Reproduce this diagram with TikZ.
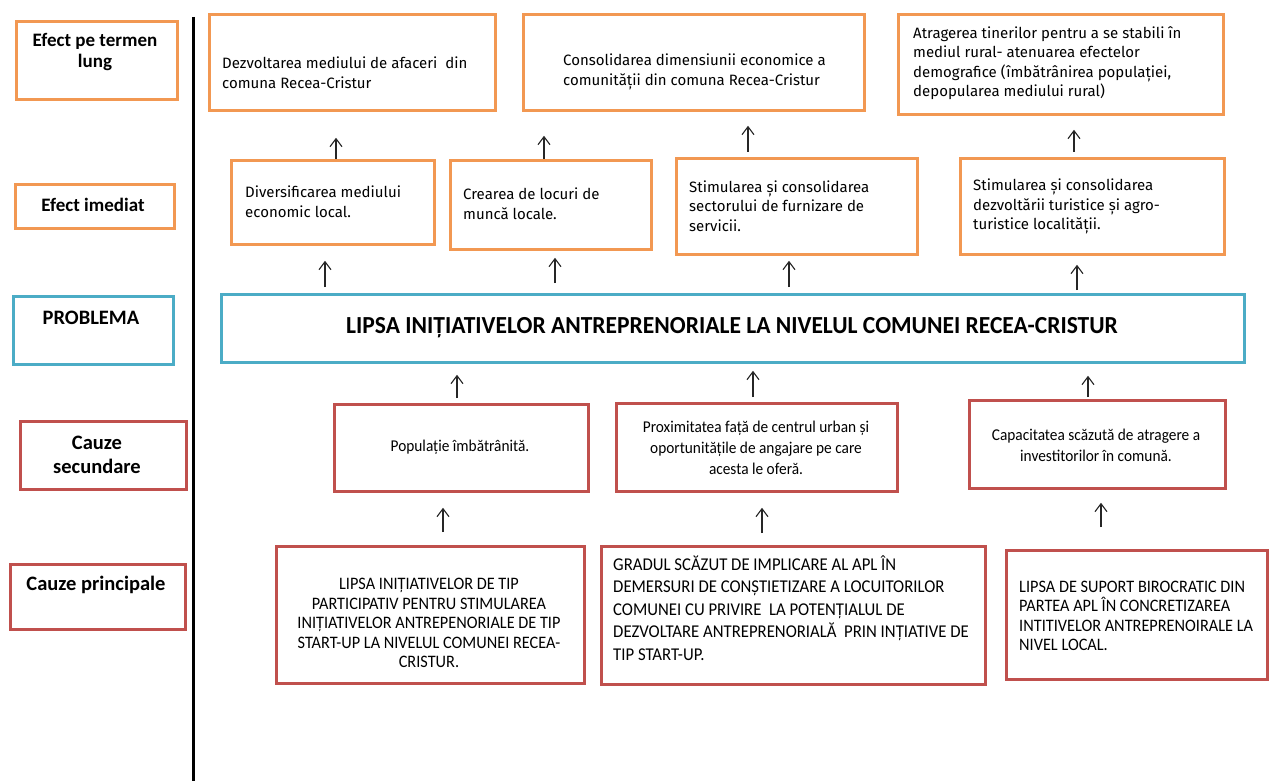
\documentclass[tikz,border=0pt]{standalone}
\usepackage{fontspec}
\setmainfont{Carlito}
\newfontfamily\rowfont{Fira Sans}
\newfontfamily\narrowfont[FakeStretch=0.93]{Carlito}
\newfontfamily\probfont[FakeStretch=0.96]{Carlito}
\usetikzlibrary{arrows.meta}
\definecolor{orng}{RGB}{242,152,82}
\definecolor{blu}{RGB}{75,172,198}
\definecolor{rd}{RGB}{192,80,77}
\begin{document}
\begin{tikzpicture}[x=1pt,y=-1pt,
  box/.style={draw, line width=2.8pt, inner sep=0pt, anchor=north west},
  ob/.style={box, draw=orng},
  bb/.style={box, draw=blu},
  rb/.style={box, draw=rd},
  arr/.style={-{Straight Barb[length=8pt,width=12pt]}, line width=1.1pt, draw=black!85},
  lab/.style={font=\bfseries\fontsize{19}{21}\selectfont, align=center, inner sep=0pt},
  labb/.style={font=\bfseries\fontsize{20.5}{24}\selectfont, align=center, inner sep=0pt},
  rowt/.style={font=\rowfont\fontsize{15}{19.5}\selectfont, align=left, anchor=west, inner sep=0pt},
  prt/.style={font=\probfont\bfseries\fontsize{24.5}{28}\selectfont, inner sep=0pt},
  cst/.style={font=\narrowfont\fontsize{16.5}{21}\selectfont, align=center, inner sep=0pt},
  cpt/.style={font=\narrowfont\fontsize{17.5}{19.5}\selectfont, inner sep=0pt}]
\useasboundingbox (0,0) rectangle (1269,781);
\fill[white] (0,0) rectangle (1269,781);

% divider
\draw[line width=3pt] (193,17) -- (193,781);

% left column labels
\node[ob, minimum width=161pt, minimum height=78pt] (L1) at (15,20) {};
\node[lab] (L1t) at (95,52.5) {Efect pe termen\\lung};
\node[ob, minimum width=159pt, minimum height=44pt] (L2) at (14,183) {};
\node[lab] (L2t) at (93,205) {Efect imediat};
\node[bb, minimum width=160pt, minimum height=68pt] (L3) at (12,295) {};
\node[labb] (L3t) at (91,318) {PROBLEMA};
\node[rb, minimum width=166pt, minimum height=68pt] (L4) at (19,420) {};
\node[labb] (L4t) at (97,455) {Cauze\\secundare};
\node[rb, minimum width=175pt, minimum height=65pt] (L5) at (9,563) {};
\node[labb] (L5t) at (96,585) {Cauze principale};

% long-term effects
\node[ob, minimum width=286pt, minimum height=96pt] (t1) at (208,13) {};
\node[rowt] (t1t) at (222,72.5) {Dezvoltarea mediului de afaceri\ \ din\\comuna Recea-Cristur};
\node[ob, minimum width=341pt, minimum height=96pt] (t2) at (522,13) {};
\node[rowt] (t2t) at (563,72) {Consolidarea dimensiunii economice a\\comunității din comuna Recea-Cristur};
\node[ob, minimum width=325pt, minimum height=100pt] (t3) at (897,13) {};
\node[rowt] (t3t) at (913,63) {Atragerea tinerilor pentru a se stabili în\\mediul rural- atenuarea efectelor\\demografice (îmbătrânirea populației,\\depopularea mediului rural)};

% immediate effects
\node[ob, minimum width=203pt, minimum height=84pt] (b1) at (230,159) {};
\node[rowt] (b1t) at (245,201.5) {Diversificarea mediului\\economic local.};
\node[ob, minimum width=201pt, minimum height=89pt] (b2) at (449,159) {};
\node[rowt] (b2t) at (463,203.5) {Crearea de locuri de\\muncă locale.};
\node[ob, minimum width=241pt, minimum height=96pt] (b3) at (675,157) {};
\node[rowt] (b3t) at (689,206) {Stimularea și consolidarea\\sectorului de furnizare de\\servicii.};
\node[ob, minimum width=264pt, minimum height=96pt] (b4) at (959,157) {};
\node[rowt] (b4t) at (973,206.5) {Stimularea și consolidarea\\dezvoltării turistice și agro-\\turistice localității.};

% problem
\node[bb, minimum width=1023pt, minimum height=68pt] (pr) at (220,293) {};
\node[prt] (prt) at (732,328) {LIPSA INIȚIATIVELOR ANTREPRENORIALE LA NIVELUL COMUNEI RECEA-CRISTUR};

% secondary causes
\node[rb, minimum width=254pt, minimum height=87pt] (cs1) at (333,403) {};
\node[cst] (cs1t) at (460,447) {Populație îmbătrânită.};
\node[rb, minimum width=281pt, minimum height=88pt] (cs2) at (615,402) {};
\node[cst] (cs2t) at (756,448) {Proximitatea față de centrul urban și\\oportunitățile de angajare pe care\\acesta le oferă.};
\node[rb, minimum width=256pt, minimum height=88pt] (cs3) at (968,399) {};
\node[cst] (cs3t) at (1096,445) {Capacitatea scăzută de atragere a\\investitorilor în comună.};

% main causes
\node[rb, minimum width=308pt, minimum height=137pt] (cp1) at (275,545) {};
\node[cpt, align=center] (cp1t) at (429,623) {LIPSA INIȚIATIVELOR DE TIP\\PARTICIPATIV PENTRU STIMULAREA\\INIȚIATIVELOR ANTREPENORIALE DE TIP\\START-UP LA NIVELUL COMUNEI RECEA-\\CRISTUR.};
\node[rb, minimum width=384pt, minimum height=138pt] (cp2) at (600,545) {};
\node[cpt, align=left, anchor=west, font=\narrowfont\fontsize{18}{22.5}\selectfont] (cp2t) at (613,608) {GRADUL SCĂZUT DE IMPLICARE AL APL ÎN\\DEMERSURI DE CONȘTIETIZARE A LOCUITORILOR\\COMUNEI CU PRIVIRE\ \ LA POTENȚIALUL DE\\DEZVOLTARE ANTREPRENORIALĂ\ \ PRIN INȚIATIVE DE\\TIP START-UP.};
\node[rb, minimum width=261pt, minimum height=129pt] (cp3) at (1005,549) {};
\node[cpt, align=left, anchor=west] (cp3t) at (1019,616) {LIPSA DE SUPORT BIROCRATIC DIN\\PARTEA APL ÎN CONCRETIZAREA\\INTITIVELOR ANTREPRENOIRALE LA\\NIVEL LOCAL.};

% arrow columns
\coordinate (xa) at (336,0);
\coordinate (xb) at (544,0);
\coordinate (xc) at (748,0);
\coordinate (xd) at (1074,0);
\coordinate (xe) at (325,0);
\coordinate (xf) at (555,0);
\coordinate (xg) at (789,0);
\coordinate (xh) at (1077,0);
\coordinate (xi) at (457,0);
\coordinate (xj) at (753,0);
\coordinate (xk) at (1088,0);
\coordinate (xl) at (443,0);
\coordinate (xm) at (762,0);
\coordinate (xn) at (1101,0);

% immediate -> long term
\draw[arr, shorten >=26pt] (b1.north -| xa) -- (t1.south -| xa);
\draw[arr, shorten >=24pt] (b2.north -| xb) -- (t2.south -| xb);
\draw[arr, shorten <=5pt, shorten >=14pt] (b3.north -| xc) -- (t2.south -| xc);
\draw[arr, shorten <=5pt, shorten >=14pt] (b4.north -| xd) -- (t3.south -| xd);
% problem -> immediate
\draw[arr, shorten <=6pt, shorten >=15pt] (pr.north -| xe) -- (b1.south -| xe);
\draw[arr, shorten <=10pt, shorten >=7pt] (pr.north -| xf) -- (b2.south -| xf);
\draw[arr, shorten <=6pt, shorten >=5pt] (pr.north -| xg) -- (b3.south -| xg);
\draw[arr, shorten <=3pt, shorten >=9pt] (pr.north -| xh) -- (b4.south -| xh);
% secondary -> problem
\draw[arr, shorten <=5pt, shorten >=11pt] (cs1.north -| xi) -- (pr.south -| xi);
\draw[arr, shorten <=5pt, shorten >=7pt] (cs2.north -| xj) -- (pr.south -| xj);
\draw[arr, shorten <=2pt, shorten >=12pt] (cs3.north -| xk) -- (pr.south -| xk);
% main -> secondary
\draw[arr, shorten <=13pt, shorten >=15pt] (cp1.north -| xl) -- (cs1.south -| xl);
\draw[arr, shorten <=12pt, shorten >=15pt] (cp2.north -| xm) -- (cs2.south -| xm);
\draw[arr, shorten <=22pt, shorten >=13pt] (cp3.north -| xn) -- (cs3.south -| xn);
\end{tikzpicture}
\end{document}
